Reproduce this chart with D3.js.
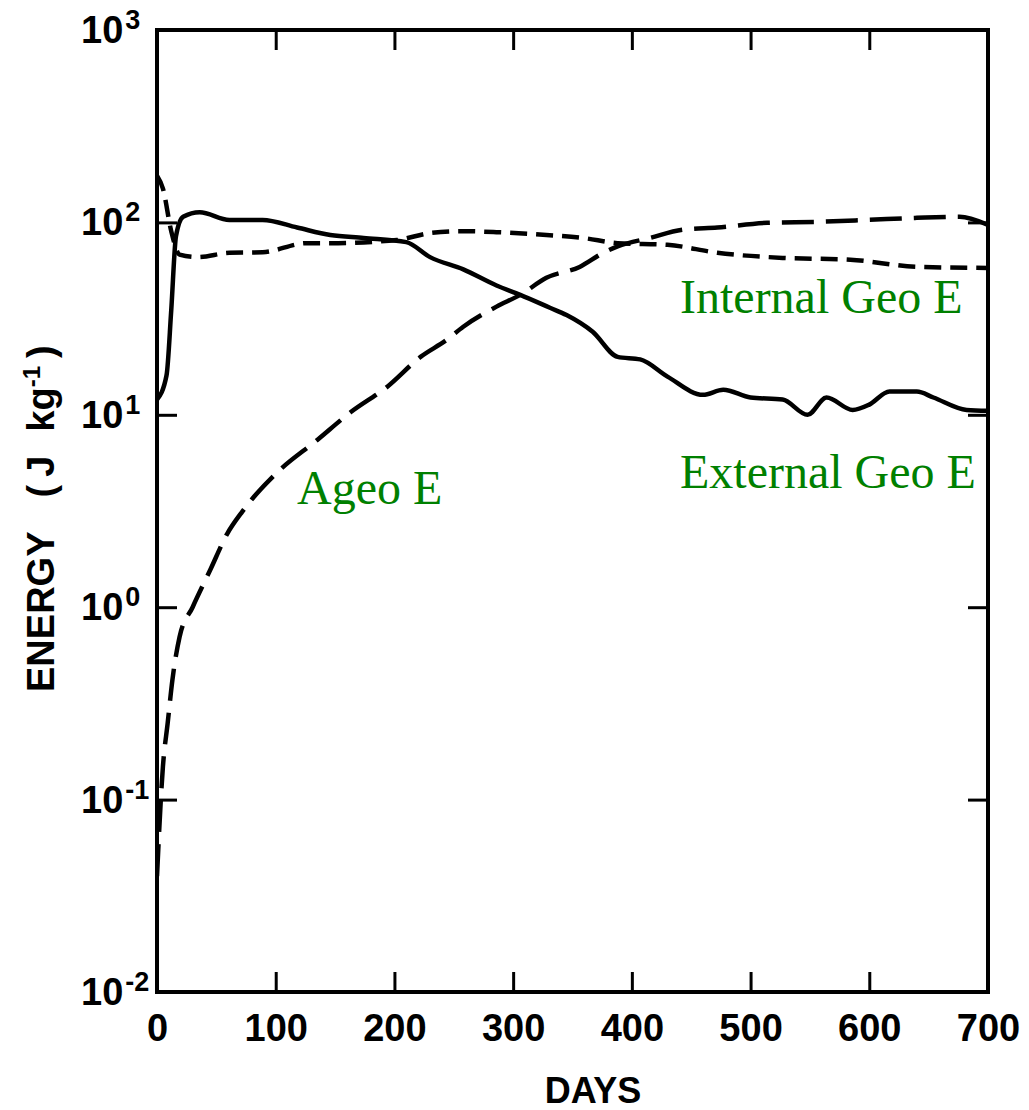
<html>
<head>
<script src="https://d3js.org/d3.v7.min.js"></script>
<style>
body { margin:0; background:#fff; }
.axis text { font-family:"Liberation Sans", Arial, sans-serif; font-weight:bold; font-size:38px; fill:#000; }
.axis line { stroke:#000; stroke-width:3; }
</style>
</head>
<body>
<svg width="1029" height="1110"></svg>
<script>
// External Geo E (solid)
var extDays = [0, 8, 12, 16, 22, 36, 61, 89, 118, 146, 174, 210, 230, 258, 286, 306, 331, 345, 367, 388, 407, 430, 460, 477, 500, 527, 548, 564, 586, 600, 617, 640, 654, 682, 700];
var extValues = [12, 16, 35, 85, 107, 113, 103, 103, 94, 86, 83, 79, 66, 57, 47, 42, 36, 33, 27, 20, 19.4, 15.8, 12.7, 13.5, 12.3, 12.0, 10.0, 12.3, 10.6, 11.3, 13.2, 13.2, 12.3, 10.6, 10.5];
// Internal Geo E (short dashes)
var intDays = [0, 5, 12, 19, 34, 61, 89, 126, 146, 202, 230, 258, 286, 328, 359, 388, 430, 472, 527, 584, 640, 700];
var intValues = [175, 150, 90, 68, 66, 69.5, 70, 78, 78, 81, 88, 90, 89, 86, 83, 78, 76.5, 69.5, 65.4, 64, 58.8, 58];
// Ageo E (long dashes)
var ageoDays = [0, 5, 9, 13, 19, 30, 45, 59, 72, 101, 135, 163, 194, 222, 244, 258, 286, 306, 328, 356, 376, 388, 415, 443, 472, 514, 556, 598, 640, 676, 700];
var ageoValues = [0.04, 0.149, 0.25, 0.42, 0.7, 1.0, 1.57, 2.4, 3.15, 5.0, 7.4, 10.3, 14, 20, 24.5, 28.7, 36.5, 42, 51.5, 58.7, 69.5, 75, 83, 91.6, 94, 99.5, 100.7, 103, 105.6, 107, 97];

var xTicks = [0, 100, 200, 300, 400, 500, 600, 700];
var yTicks = [1e-2, 1e-1, 1e0, 1e1, 1e2, 1e3];
var yExps = ["-2", "-1", "0", "1", "2", "3"];

var width = 1029, height = 1110;
var margin = {top: 30, right: 41, bottom: 118, left: 157};
var svg = d3.select("svg");

var x = d3.scaleLinear().domain([0, 700]).range([margin.left, width - margin.right]);
var y = d3.scaleLog().domain([1e-2, 1e3]).range([height - margin.bottom, margin.top]);

svg.append("clipPath").attr("id", "plot")
	.append("rect")
	.attr("x", x(0)).attr("y", y(1e3))
	.attr("width", x(700) - x(0)).attr("height", y(1e-2) - y(1e3));

// axes with inward ticks
svg.append("g").attr("class", "axis")
	.attr("transform", "translate(0," + y(1e-2) + ")")
	.call(d3.axisBottom(x).tickValues(xTicks).tickSize(-20).tickPadding(22).tickFormat(d3.format("d")))
	.call(g => g.select(".domain").remove());
svg.append("g").attr("class", "axis")
	.attr("transform", "translate(0," + y(1e3) + ")")
	.call(d3.axisTop(x).tickValues(xTicks).tickSize(-20).tickFormat(""))
	.call(g => g.select(".domain").remove());
svg.append("g").attr("class", "axis")
	.attr("transform", "translate(" + x(0) + ",0)")
	.call(d3.axisLeft(y).tickValues(yTicks).tickSize(-20).tickFormat(""))
	.call(g => g.select(".domain").remove());
svg.append("g").attr("class", "axis")
	.attr("transform", "translate(" + x(700) + ",0)")
	.call(d3.axisRight(y).tickValues(yTicks).tickSize(-20).tickFormat(""))
	.call(g => g.select(".domain").remove());

// y labels 10^n
var ylab = svg.append("g").attr("class", "axis");
yTicks.forEach(function(v, i) {
	var t = ylab.append("text")
		.attr("x", 81)
		.attr("y", y(v) + 13);
	t.append("tspan").text("10");
	t.append("tspan").attr("dy", -14).attr("dx", 2).style("font-size", "27px").text(yExps[i]);
});

// frame
svg.append("rect")
	.attr("x", x(0)).attr("y", y(1e3))
	.attr("width", x(700) - x(0)).attr("height", y(1e-2) - y(1e3))
	.attr("fill", "none").attr("stroke", "#000").attr("stroke-width", 4);

// curves
var line = d3.line()
	.x(d => x(d[0]))
	.y(d => y(d[1]))
	.curve(d3.curveMonotoneX);
var curves = svg.append("g").attr("clip-path", "url(#plot)");
function draw(days, vals, dash) {
	curves.append("path")
		.datum(days.map((d, i) => [d, vals[i]]))
		.attr("d", line)
		.attr("fill", "none")
		.attr("stroke", "#000")
		.attr("stroke-width", 4.5)
		.attr("stroke-dasharray", dash);
}
draw(intDays, intValues, "17,9");
draw(ageoDays, ageoValues, "32,12");
draw(extDays, extValues, null);

// axis titles
svg.append("text")
	.attr("x", 593).attr("y", 1103)
	.attr("text-anchor", "middle")
	.style("font-family", "'Liberation Sans', Arial, sans-serif")
	.style("font-weight", "bold").style("font-size", "36px")
	.text("DAYS");
var yt = svg.append("text")
	.attr("transform", "translate(54,692) rotate(-90)")
	.style("font-family", "'Liberation Sans', Arial, sans-serif")
	.style("font-weight", "bold").style("font-size", "38px");
yt.append("tspan").text("ENERGY");
yt.append("tspan").attr("dx", 34).text("(");
yt.append("tspan").attr("dx", 8).text("J");
yt.append("tspan").attr("dx", 24).text("kg");
yt.append("tspan").attr("dy", -14).style("font-size", "24px").text("-1");
yt.append("tspan").attr("dy", 14).attr("dx", 8).text(")");

// series labels
var lab = svg.append("g")
	.style("font-family", "'Liberation Serif', 'Times New Roman', serif")
	.style("font-size", "48px")
	.attr("fill", "#008000");
lab.append("text").attr("x", 680).attr("y", 313).text("Internal Geo E");
lab.append("text").attr("x", 680).attr("y", 488).text("External Geo E");
lab.append("text").attr("x", 297).attr("y", 504).text("Ageo E");
</script>
</body>
</html>
